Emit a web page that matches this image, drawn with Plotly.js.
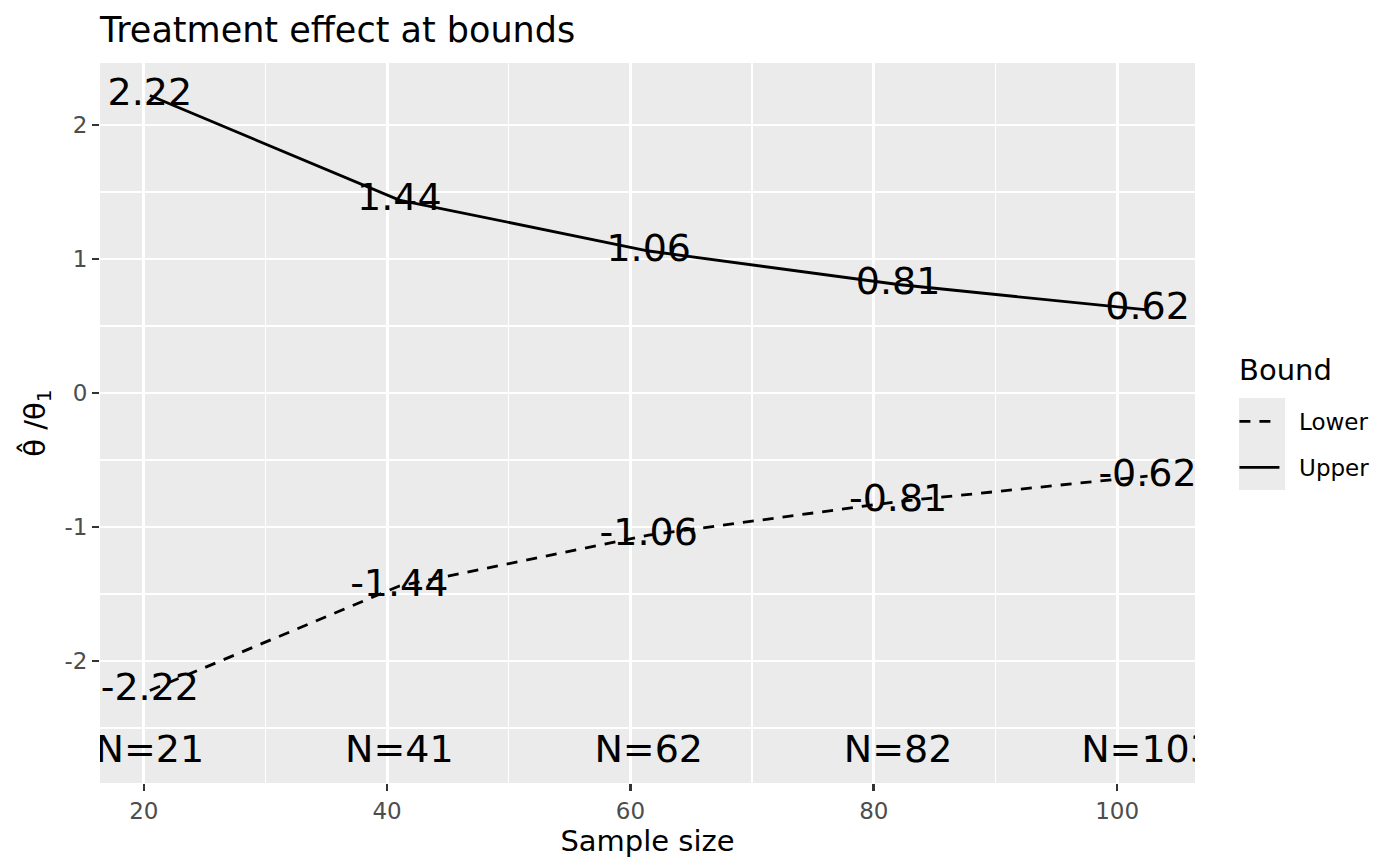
<!DOCTYPE html>
<html>
<head>
<meta charset="utf-8">
<script src="https://cdn.plot.ly/plotly-3.0.1.min.js"></script>
<style>
  body { margin: 0; background: #fff; }
  #plot { width: 1400px; height: 866px; }
</style>
</head>
<body>
<div id="plot"></div>
<script>
// sample size at each analysis
var sampleSize = [20.5, 41, 61.5, 82, 102.5];
var upperBound = [2.22, 1.44, 1.06, 0.81, 0.62];
var lowerBound = [-2.22, -1.44, -1.06, -0.81, -0.62];
var upperText = ["2.22", "1.44", "1.06", "0.81", "0.62"];
var lowerText = ["-2.22", "-1.44", "-1.06", "-0.81", "-0.62"];
var nText = ["N=21", "N=41", "N=62", "N=82", "N=103"];

var xTicks = [20, 40, 60, 80, 100];
var xMinor = [30, 50, 70, 90];
var yTicks = [-2, -1, 0, 1, 2];
var yTickText = ["-2", "-1", "0", "1", "2"];
var yMinor = [-2.5, -1.5, -0.5, 0.5, 1.5];

var nRowY = -2.68;
var font = "DejaVu Sans, sans-serif";
var pad = "\u00A0\u00A0";

var lower = {
    x: sampleSize,
    y: lowerBound,
    text: lowerText,
    name: pad + 'Lower',
    legendgroup: 'lower',
    mode: 'lines+text',
    type: 'scatter',
    textposition: 'middle center',
    textfont: {family: font, size: 38, color: '#000'},
    line: {color: '#000', width: 2.8, dash: '11px,9px'},
    hoverinfo: 'skip'
};

var upper = {
    x: sampleSize,
    y: upperBound,
    text: upperText,
    name: pad + 'Upper',
    legendgroup: 'upper',
    mode: 'lines+text',
    type: 'scatter',
    textposition: 'middle center',
    textfont: {family: font, size: 38, color: '#000'},
    line: {color: '#000', width: 2.8},
    hoverinfo: 'skip'
};

var nRow = {
    x: sampleSize,
    y: sampleSize.map(function () { return nRowY; }),
    text: nText,
    mode: 'text',
    type: 'scatter',
    textposition: 'middle center',
    textfont: {family: font, size: 38, color: '#000'},
    showlegend: false,
    hoverinfo: 'skip'
};

var layout = {
    width: 1400,
    height: 866,
    margin: {l: 100, r: 205, t: 63, b: 83},
    paper_bgcolor: '#fff',
    plot_bgcolor: '#EBEBEB',
    font: {family: font, color: '#000'},
    title: {
        text: 'Treatment effect at bounds',
        font: {family: font, size: 35, color: '#000'},
        x: 0, xref: 'paper', xanchor: 'left',
        y: 0.966, yref: 'container', yanchor: 'middle'
    },
    xaxis: {
        range: [16.4, 106.4],
        tickmode: 'array',
        tickvals: xTicks,
        ticks: 'outside', ticklen: 7, tickwidth: 2.6, tickcolor: '#333',
        tickfont: {family: font, size: 23, color: '#4D4D4D'},
        showgrid: true, gridcolor: '#fff', gridwidth: 2.8,
        minor: {tickvals: xMinor, showgrid: true, gridcolor: '#fff', gridwidth: 1.4, ticks: ''},
        zeroline: false, showline: false,
        title: {text: 'Sample size', font: {family: font, size: 29, color: '#000'}, standoff: 2}
    },
    yaxis: {
        range: [-2.91, 2.463],
        tickmode: 'array',
        tickvals: yTicks,
        ticktext: yTickText,
        ticks: 'outside', ticklen: 7, tickwidth: 2.6, tickcolor: '#333',
        tickfont: {family: font, size: 23, color: '#4D4D4D'},
        showgrid: true, gridcolor: '#fff', gridwidth: 2.8,
        minor: {tickvals: yMinor, showgrid: true, gridcolor: '#fff', gridwidth: 1.4, ticks: ''},
        zeroline: false, showline: false,
        title: {text: 'θ\u0302 /θ<sub>1</sub>', font: {family: font, size: 29, color: '#000'}, standoff: 10}
    },
    legend: {
        font: {family: font, size: 23, color: '#000'},
        x: 1.036, xanchor: 'left', xref: 'paper',
        y: 0.532, yanchor: 'top', yref: 'paper',
        bgcolor: 'rgba(0,0,0,0)',
        itemwidth: 40,
        tracegroupgap: 13
    },
    annotations: [{
        text: 'Bound', xref: 'paper', yref: 'paper',
        x: 1.0384, xanchor: 'left', y: 0.5736, yanchor: 'middle',
        showarrow: false, font: {family: font, size: 29, color: '#000'}
    }],
    shapes: [{
        type: 'rect', xref: 'paper', yref: 'paper',
        x0: 1.0402, x1: 1.0822, y0: 0.4069, y1: 0.5347,
        fillcolor: '#EBEBEB', line: {width: 0}, layer: 'below'
    }],
    showlegend: true
};

Plotly.newPlot('plot', [lower, upper, nRow], layout, {displayModeBar: false, staticPlot: true});
</script>
</body>
</html>
